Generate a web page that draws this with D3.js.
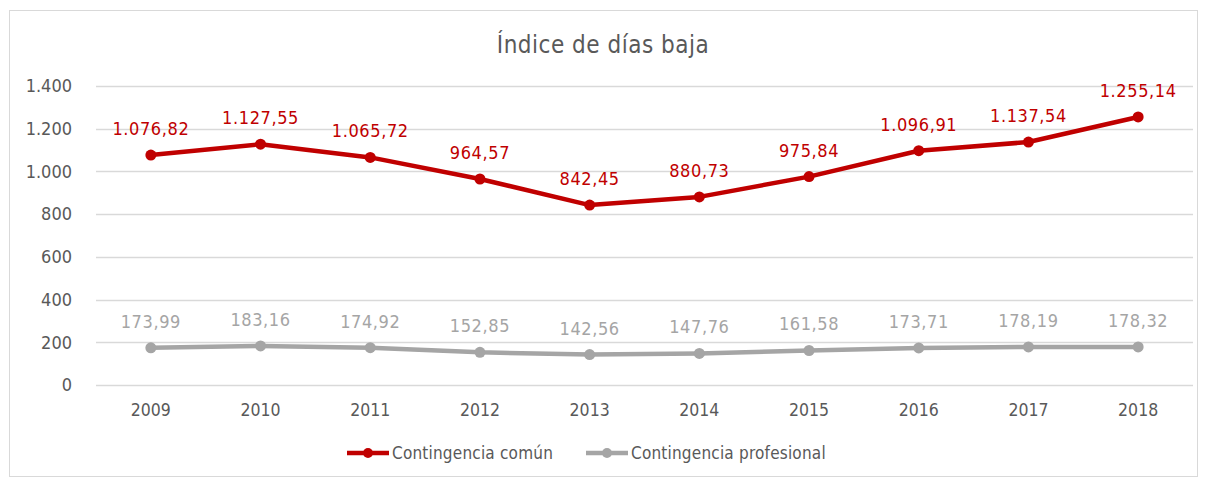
<!DOCTYPE html>
<html>
<head>
<meta charset="utf-8">
<script src="https://cdn.jsdelivr.net/npm/d3@7"></script>
<style>
  body { margin: 0; background: #fff; }
  text { font-family: "DejaVu Sans Condensed", "DejaVu Sans", sans-serif; }
</style>
</head>
<body>
<div id="chart"></div>
<script>
// Índice de días baja, 2009-2018
const years = ["2009", "2010", "2011", "2012", "2013", "2014", "2015", "2016", "2017", "2018"];
const comun = [1076.82, 1127.55, 1065.72, 964.57, 842.45, 880.73, 975.84, 1096.91, 1137.54, 1255.14];
const profesional = [173.99, 183.16, 174.92, 152.85, 142.56, 147.76, 161.58, 173.71, 178.19, 178.32];
const yTicks = [0, 200, 400, 600, 800, 1000, 1200, 1400];
const seriesNames = ["Contingencia común", "Contingencia profesional"];

const W = 1206, H = 479;
const svg = d3.select("#chart").append("svg")
    .attr("width", W)
    .attr("height", H);

// outer frame
svg.append("rect")
    .attr("x", 9.5).attr("y", 10.5)
    .attr("width", 1188).attr("height", 466)
    .attr("fill", "#fff")
    .attr("stroke", "#d9d9d9");

const margin = { left: 96, right: 13, top: 86, bottom: 94 };

const x = d3.scaleBand()
    .domain(years)
    .range([margin.left, W - margin.right]);

const y = d3.scaleLinear()
    .domain([0, 1400])
    .range([H - margin.bottom, margin.top]);

// number format like 1.076,82
const es = d3.formatLocale({ decimal: ",", thousands: ".", grouping: [3], currency: ["", "€"] });
const fmtVal = es.format(",.2f");
const fmtTick = es.format(",.0f");

// gridlines
svg.append("g")
    .selectAll("line")
    .data(yTicks)
    .join("line")
    .attr("x1", margin.left)
    .attr("x2", W - margin.right)
    .attr("y1", d => Math.round(y(d)) + 0.5)
    .attr("y2", d => Math.round(y(d)) + 0.5)
    .attr("stroke", "#d9d9d9")
    .attr("stroke-width", 1.5);

// y axis labels
svg.append("g")
    .selectAll("text")
    .data(yTicks)
    .join("text")
    .attr("x", 72)
    .attr("y", d => y(d))
    .attr("dy", "0.35em")
    .attr("text-anchor", "end")
    .attr("font-size", 18)
    .attr("fill", "#595959")
    .text(d => d === 0 ? "0" : fmtTick(d));

// x axis labels
svg.append("g")
    .selectAll("text")
    .data(years)
    .join("text")
    .attr("x", d => x(d) + x.bandwidth() / 2)
    .attr("y", 416)
    .attr("text-anchor", "middle")
    .attr("font-size", 17.5)
    .attr("fill", "#595959")
    .text(d => d);

// title
svg.append("text")
    .attr("x", W / 2)
    .attr("y", 53)
    .attr("text-anchor", "middle")
    .attr("font-size", 24)
    .attr("letter-spacing", 0.5)
    .attr("fill", "#595959")
    .text("Índice de días baja");

const line = d3.line()
    .x((d, i) => x(years[i]) + x.bandwidth() / 2)
    .y(d => y(d));

const series = [
    { name: seriesNames[0], values: comun, color: "#c00000", labelColor: "#c00000" },
    { name: seriesNames[1], values: profesional, color: "#a5a5a5", labelColor: "#a5a5a5" }
];

series.forEach(s => {
    svg.append("path")
        .datum(s.values)
        .attr("fill", "none")
        .attr("stroke", s.color)
        .attr("stroke-width", 4.5)
        .attr("stroke-linejoin", "round")
        .attr("d", line);

    svg.append("g")
        .selectAll("circle")
        .data(s.values)
        .join("circle")
        .attr("cx", (d, i) => x(years[i]) + x.bandwidth() / 2)
        .attr("cy", d => y(d))
        .attr("r", 5.5)
        .attr("fill", s.color);

    svg.append("g")
        .selectAll("text")
        .data(s.values)
        .join("text")
        .attr("x", (d, i) => x(years[i]) + x.bandwidth() / 2)
        .attr("y", d => y(d) - 20)
        .attr("text-anchor", "middle")
        .attr("font-size", 18)
        .attr("letter-spacing", 0.6)
        .attr("fill", s.labelColor)
        .text(d => fmtVal(d));
});

// legend
const legendX = [347, 586];
series.forEach((s, i) => {
    const g = svg.append("g").attr("transform", `translate(${legendX[i]},453)`);
    g.append("line")
        .attr("x1", 0).attr("x2", 42)
        .attr("stroke", s.color)
        .attr("stroke-width", 4.5);
    g.append("circle")
        .attr("cx", 21).attr("r", 5)
        .attr("fill", s.color);
    g.append("text")
        .attr("x", 45)
        .attr("dy", "0.35em")
        .attr("font-size", 17)
        .attr("letter-spacing", 0.2)
        .attr("fill", "#595959")
        .text(s.name);
});
</script>
</body>
</html>
